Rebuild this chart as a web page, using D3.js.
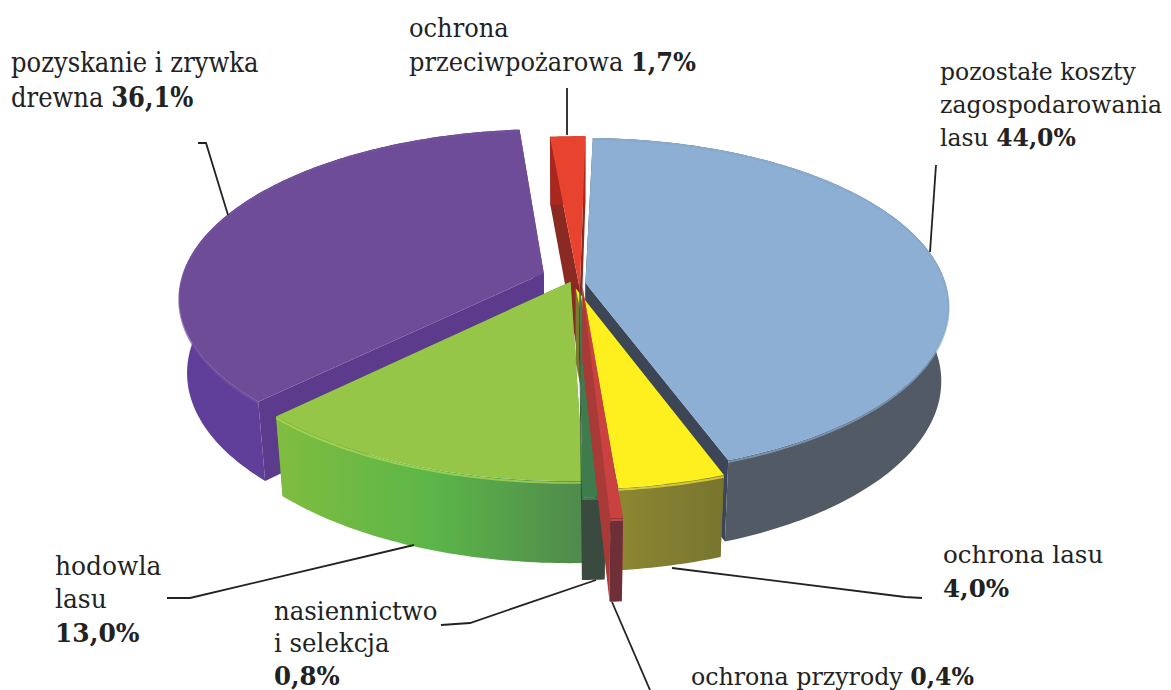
<!DOCTYPE html>
<html><head><meta charset="utf-8">
<script src="https://cdnjs.cloudflare.com/ajax/libs/d3/7.8.5/d3.min.js"></script>
<style>html,body{margin:0;background:#fff}svg{display:block}
text{font-family:"DejaVu Serif",serif;fill:#222}
.b{font-weight:bold}</style></head><body>
<svg id="c" width="1171" height="690"></svg>
<script>
const categories=["pozostałe koszty zagospodarowania lasu","ochrona lasu","ochrona przyrody","nasiennictwo i selekcja","hodowla lasu","pozyskanie i zrywka drewna","ochrona przeciwpożarowa"];
const values=[44.0,4.0,0.4,0.8,13.0,36.1,1.7];
const valueLabels=["44,0%","4,0%","0,4%","0,8%","13,0%","36,1%","1,7%"];
const topColors=["#8dafd3","#fdf01e","#c9423f","#3f7c4d","#95c648","#6f4c98","#e8432e"];
const bevelColors=["#87a8cd","#f5e83a","#d65a55","#4a8a58","#b4d85a","#74529f","#e8432e"];
const wallStops=[["#4a5260","#525a66"],["#8d8732","#77752f"],["#6f2f38","#6f2f38"],["#3a4a3e","#3a4a3e"],["#80bd40","#5cb648","#4f8a4c"],["#5f3f99","#5b3c90"],["#a8281f","#a8281f"]];
const faceColors=["#3d4656","#7d7a30","#a83a38","#2f4a38","#5a8f3c","#5c3a8c","#8a2a22"];
// layout per slice: apex offset on the pie's ground plane, radius multiple, small angular nudge in degrees
const offsetU=[0.02,-0.006,0.012,0.004,-0.02,-0.093,0.005];
const offsetV=[0.017,0.05,0.04,0.03,0.01,-0.04,0.055];
const radius=[0.97,1.005,1.14,1.06,1.01,0.98,1.02];
const nudge=[0.5,0.5,1.7,1.6,0,0,0];
const drawOrder=[5,6,0,1,4,3,2];

const cx=578,cy=280,Rx=370,Ry=169,H=76,k=0.14,kz=0.02,rot=1;
const sx=d3.scaleLinear().domain([0,1]).range([0,Rx]);
const sy=d3.scaleLinear().domain([0,1]).range([0,Ry]);
const sz=d3.scaleLinear().domain([0,1]).range([0,H]);
function proj(u,v,z){const d=1-k*v+kz*z;return [cx+sx(u)/d,cy+(sy(v)+sz(z))/d];}
const arcs=d3.pie().sort(null).startAngle(rot*Math.PI/180).endAngle(2*Math.PI+rot*Math.PI/180)(values);
const svg=d3.select("#c"),defs=svg.append("defs");
const line=d3.line();
function pt(i,a,r,z){return proj(offsetU[i]+r*Math.sin(a),offsetV[i]-r*Math.cos(a),z);}
arcs.forEach((s,i)=>{
  const r=radius[i],nd=nudge[i]*Math.PI/180,a0=s.startAngle+nd,a1=s.endAngle+nd;
  const n=Math.max(3,Math.ceil((a1-a0)*60));
  const as=d3.range(n+1).map(j=>a0+(a1-a0)*j/n);
  const apex=z=>proj(offsetU[i],offsetV[i],z);
  const g=svg.append("g").attr("data-i",i);
  const grad=defs.append("linearGradient").attr("id","w"+i).attr("gradientUnits","userSpaceOnUse");
  const p0=pt(i,a1,r,0),p1=pt(i,a0,r,0);
  grad.attr("x1",Math.min(p0[0],p1[0])).attr("x2",Math.max(p0[0],p1[0])).attr("y1",0).attr("y2",0);
  wallStops[i].forEach((c,j)=>grad.append("stop").attr("offset",j/(wallStops[i].length-1)).attr("stop-color",c));
  [a0,a1].forEach(a=>{
    g.append("path").attr("d",line([apex(0),pt(i,a,r,0),pt(i,a,r,1),apex(1)])+"Z").attr("fill",faceColors[i]);
  });
  g.append("path").attr("d",line([...as.map(a=>pt(i,a,r,0)),...as.slice().reverse().map(a=>pt(i,a,r,1))])+"Z").attr("fill",`url(#w${i})`);
  g.append("path").attr("d",line([apex(0),...as.map(a=>pt(i,a,r,0))])+"Z").attr("fill",topColors[i]);
  g.append("path").attr("d",line(as.map(a=>pt(i,a,r,0.02)))).attr("fill","none").attr("stroke",bevelColors[i]).attr("stroke-width",2).attr("stroke-opacity",0.7);
});
drawOrder.forEach(i=>svg.select(`g[data-i="${i}"]`).raise());

// leader lines
const leaders=[[[936,165],[930,252]],[[672,568],[905,597],[922,598]],[[612,602],[650,690]],[[596,580],[470,623],[441,625]],[[414,545],[190,598],[167,598]],[[228,215],[206,143],[198,143]],[[567,135],[567,88]]];
svg.append("g").selectAll("path").data(leaders).join("path").attr("d",d=>line(d)).attr("fill","none").attr("stroke","#222").attr("stroke-width",1.8);

const labelLines=[
 [["pozostałe koszty"],["zagospodarowania"],["lasu ",0]],
 [["ochrona lasu"],["",1]],
 [["ochrona przyrody ",2]],
 [["nasiennictwo"],["i selekcja"],["",3]],
 [["hodowla"],["lasu"],["",4]],
 [["pozyskanie i zrywka"],["drewna ",5]],
 [["ochrona"],["przeciwpożarowa ",6]]];
const labelX=[940,943,691,274,55,11,409],labelY=[80,563,685,620,575,72,37],leading=[33,34,0,32.5,33.5,35,34];
const labelSize=[23.5,24.6,23.7,26,26,27,26],labelScale=[1,1,1,0.94,0.96,0.9,0.93];
labelLines.forEach((ls,i)=>{
  const t=svg.append("text").attr("transform",`translate(${labelX[i]},${labelY[i]}) scale(${labelScale[i]},1)`).style("font-size",labelSize[i]+"px");
  ls.forEach((l,j)=>{
    const dy=j?leading[i]:0;
    if(l[0]){
      t.append("tspan").attr("x",0).attr("dy",dy).text(l[0]);
      if(l.length>1) t.append("tspan").attr("class","b").text(valueLabels[l[1]]);
    } else {
      t.append("tspan").attr("class","b").attr("x",0).attr("dy",dy).text(valueLabels[l[1]]);
    }
  });
});
</script></body></html>
